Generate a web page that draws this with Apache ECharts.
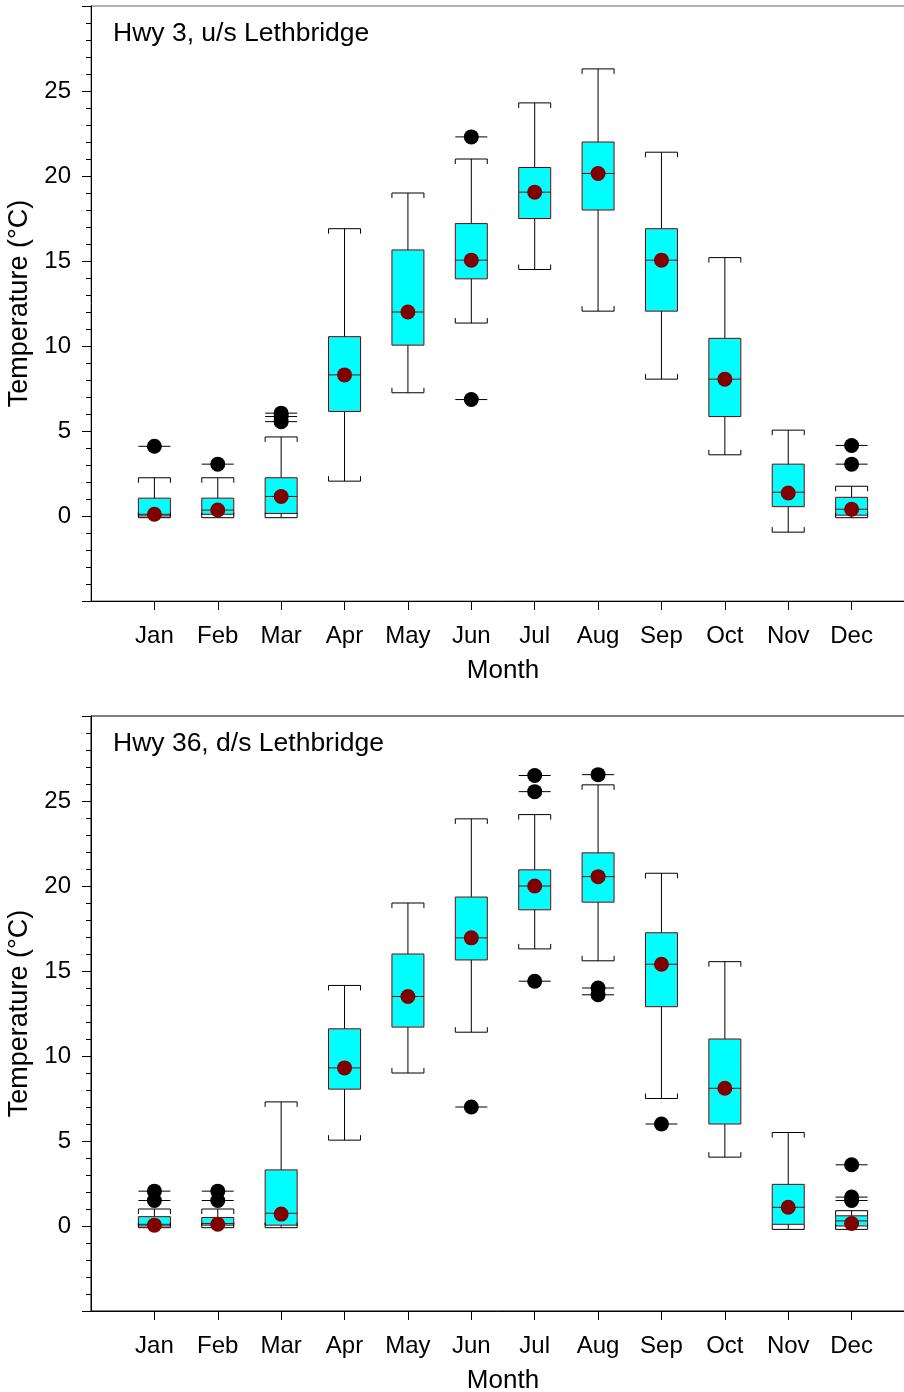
<!DOCTYPE html>
<html>
<head>
<meta charset="utf-8">
<script src="https://cdn.jsdelivr.net/npm/echarts@6/dist/echarts.min.js"></script>
<style>
  html, body { margin: 0; padding: 0; background: #fff; }
  #chart { width: 904px; height: 1392px; }
</style>
</head>
<body>
<div id="chart"></div>
<script>
// month labels; first and last category are empty padding slots
var months = ['Jan', 'Feb', 'Mar', 'Apr', 'May', 'Jun', 'Jul', 'Aug', 'Sep', 'Oct', 'Nov', 'Dec'];
var xCats = [''].concat(months, ['']);
var yTicks = [0, 5, 10, 15, 20, 25];

// Hwy 3, u/s Lethbridge : [low whisker, Q1, median, Q3, high whisker]
var hwy3Box = [
    [-0.1, 0.0, 0.1, 1.05, 2.25],
    [-0.1, 0.1, 0.35, 1.05, 2.25],
    [-0.1, 0.15, 1.15, 2.25, 4.65],
    [2.05, 6.15, 8.3, 10.55, 16.9],
    [7.25, 10.05, 12.0, 15.65, 19.0],
    [11.35, 13.95, 15.05, 17.2, 21.0],
    [14.5, 17.5, 19.05, 20.5, 24.3],
    [12.05, 18.0, 20.15, 22.0, 26.3],
    [8.05, 12.05, 15.05, 16.9, 21.4],
    [3.6, 5.85, 8.05, 10.45, 15.2],
    [-0.95, 0.55, 1.4, 3.05, 5.05],
    [-0.1, 0.05, 0.4, 1.1, 1.75]
];
var hwy3Mean = [0.1, 0.35, 1.15, 8.3, 12.0, 15.05, 19.05, 20.15, 15.05, 8.05, 1.35, 0.4];
// [month number, value]
var hwy3Outliers = [
    [1, 4.1], [2, 3.05], [3, 6.05], [3, 5.85], [3, 5.55],
    [6, 22.3], [6, 6.85], [12, 4.15], [12, 3.05]
];

// Hwy 36, d/s Lethbridge
var hwy36Box = [
    [-0.1, 0.0, 0.1, 0.55, 1.0],
    [-0.1, 0.05, 0.15, 0.5, 1.0],
    [-0.1, 0.05, 0.75, 3.3, 7.3],
    [5.05, 8.05, 9.3, 11.6, 14.15],
    [9.0, 11.7, 13.5, 16.0, 19.0],
    [11.4, 15.65, 16.95, 19.35, 23.95],
    [16.3, 18.6, 20.0, 20.95, 24.2],
    [15.6, 19.05, 20.55, 21.95, 25.95],
    [7.5, 12.9, 15.4, 17.25, 20.75],
    [4.05, 6.0, 8.1, 11.0, 15.55],
    [-0.2, 0.1, 1.1, 2.45, 5.5],
    [-0.2, 0.0, 0.3, 0.6, 0.9]
];
var hwy36Mean = [0.05, 0.1, 0.7, 9.3, 13.5, 16.95, 20.0, 20.55, 15.4, 8.1, 1.1, 0.15];
var hwy36Outliers = [
    [1, 2.05], [1, 1.5], [2, 2.05], [2, 1.5],
    [6, 7.0], [7, 26.5], [7, 25.55], [7, 14.4],
    [8, 26.55], [8, 14.0], [8, 13.6], [9, 6.0],
    [12, 3.6], [12, 1.7], [12, 1.5]
];

var FONT = 'Liberation Sans, Arial, sans-serif';
var HALF = 16;   // half box width, px
var CAP = 5;     // cap end tick, px

function boxRows(box) {
    return box.map(function (r, i) { return [i + 1].concat(r); });
}
function meanRows(mean) {
    return mean.map(function (v, i) { return [i + 1, v]; });
}

function renderBox(params, api) {
    var m = api.value(0);
    var pLow = api.coord([m, api.value(1)]);
    var pQ1 = api.coord([m, api.value(2)]);
    var pMed = api.coord([m, api.value(3)]);
    var pQ3 = api.coord([m, api.value(4)]);
    var pHigh = api.coord([m, api.value(5)]);
    var cx = pLow[0];
    var black = {stroke: '#000', lineWidth: 1, fill: null};
    return {
        type: 'group',
        children: [
            {type: 'line', shape: {x1: cx, y1: pHigh[1], x2: cx, y2: pLow[1]}, style: black},
            {type: 'rect', shape: {x: cx - HALF, y: pQ3[1], width: HALF * 2, height: pQ1[1] - pQ3[1]},
                style: {fill: '#00ffff', stroke: '#800000', lineWidth: 1}},
            {type: 'line', shape: {x1: cx - HALF, y1: pMed[1], x2: cx + HALF, y2: pMed[1]},
                style: {stroke: '#800000', lineWidth: 1}},
            {type: 'polyline', shape: {points: [[cx - HALF, pHigh[1] + CAP], [cx - HALF, pHigh[1]],
                [cx + HALF, pHigh[1]], [cx + HALF, pHigh[1] + CAP]]}, style: black},
            {type: 'polyline', shape: {points: [[cx - HALF, pLow[1] - CAP], [cx - HALF, pLow[1]],
                [cx + HALF, pLow[1]], [cx + HALF, pLow[1] - CAP]]}, style: black}
        ]
    };
}

function renderOutlierLine(params, api) {
    var p = api.coord([api.value(0), api.value(1)]);
    return {type: 'line', shape: {x1: p[0] - HALF, y1: p[1], x2: p[0] + HALF, y2: p[1]},
        style: {stroke: '#000', lineWidth: 1}};
}

function makeXAxis(gi) {
    return {
        type: 'category', gridIndex: gi, data: xCats, boundaryGap: false,
        name: 'Month', nameLocation: 'middle', nameGap: 57,
        nameTextStyle: {fontFamily: FONT, fontSize: 26, color: '#000'},
        axisLine: {onZero: false, lineStyle: {color: '#000', width: 1}},
        axisTick: {length: 9, interval: 0, lineStyle: {color: '#000'},
            customValues: [1, 2, 3, 4, 5, 6, 7, 8, 9, 10, 11, 12]},
        axisLabel: {interval: 0, margin: 23, fontFamily: FONT, fontSize: 24, color: '#000'},
        splitLine: {show: false}
    };
}

function makeYAxis(gi) {
    return {
        type: 'value', gridIndex: gi, min: -5, max: 30, interval: 5,
        name: 'Temperature (°C)', nameLocation: 'middle', nameGap: 52,
        nameTextStyle: {fontFamily: FONT, fontSize: 27, color: '#000'},
        axisLine: {show: true, lineStyle: {color: '#000', width: 1}},
        axisTick: {show: true, length: 9, lineStyle: {color: '#000'}},
        minorTick: {show: true, splitNumber: 5, length: 5, lineStyle: {color: '#000'}},
        axisLabel: {margin: 20, fontFamily: FONT, fontSize: 24, color: '#000',
            formatter: function (v) { return yTicks.indexOf(v) >= 0 ? String(v) : ''; }},
        splitLine: {show: false}
    };
}

function panelSeries(gi, box, mean, outliers) {
    return [
        {type: 'custom', xAxisIndex: gi, yAxisIndex: gi, renderItem: renderBox,
            data: boxRows(box), encode: {x: 0, y: [1, 2, 3, 4, 5]}, z: 2, silent: true},
        {type: 'custom', xAxisIndex: gi, yAxisIndex: gi, renderItem: renderOutlierLine,
            data: outliers, encode: {x: 0, y: 1}, z: 3, silent: true},
        {type: 'scatter', xAxisIndex: gi, yAxisIndex: gi, data: outliers, symbol: 'circle',
            symbolSize: 15, itemStyle: {color: '#000', opacity: 1}, z: 4, silent: true},
        {type: 'scatter', xAxisIndex: gi, yAxisIndex: gi, data: meanRows(mean), symbol: 'circle',
            symbolSize: 15, itemStyle: {color: '#800000', opacity: 1}, z: 5, silent: true}
    ];
}

var chart = echarts.init(document.getElementById('chart'), null, {renderer: 'canvas'});
var option = {
    backgroundColor: '#fff',
    animation: false,
    title: [
        {text: 'Hwy 3, u/s Lethbridge', left: 113, top: 20, padding: 0,
            textStyle: {fontFamily: FONT, fontSize: 26.5, fontWeight: 'normal', color: '#000'}},
        {text: 'Hwy 36, d/s Lethbridge', left: 113, top: 730, padding: 0,
            textStyle: {fontFamily: FONT, fontSize: 26.5, fontWeight: 'normal', color: '#000'}}
    ],
    grid: [
        {left: 91, top: 6, width: 824, height: 595, outerBoundsMode: 'none',
            show: true, borderColor: '#666', borderWidth: 1},
        {left: 91, top: 716, width: 824, height: 595, outerBoundsMode: 'none',
            show: true, borderColor: '#000', borderWidth: 1}
    ],
    xAxis: [makeXAxis(0), makeXAxis(1)],
    yAxis: [makeYAxis(0), makeYAxis(1)],
    series: panelSeries(0, hwy3Box, hwy3Mean, hwy3Outliers)
        .concat(panelSeries(1, hwy36Box, hwy36Mean, hwy36Outliers))
};
chart.setOption(option);
</script>
</body>
</html>
